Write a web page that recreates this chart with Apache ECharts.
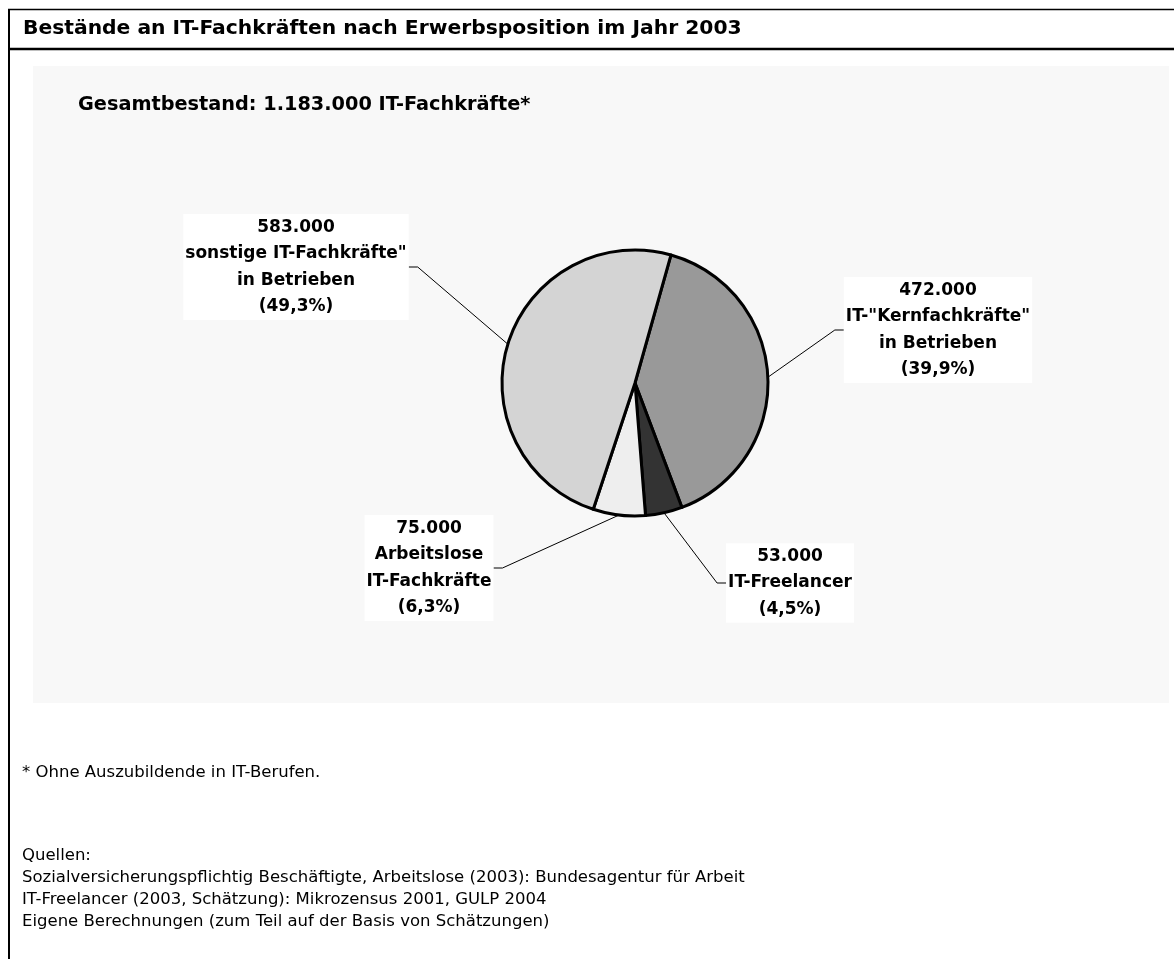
<!DOCTYPE html>
<html>
<head>
<meta charset="utf-8">
<title>Bestände an IT-Fachkräften</title>
<script src="https://cdn.jsdelivr.net/npm/echarts@6/dist/echarts.min.js"></script>
<style>
  html, body { margin: 0; padding: 0; background: #fff; }
  #chart { width: 1174px; height: 959px; }
</style>
</head>
<body>
<div id="chart"></div>
<script>
// Daten
const categories = ['IT-"Kernfachkräfte"\nin Betrieben', 'IT-Freelancer', 'Arbeitslose\nIT-Fachkräfte', 'sonstige IT-Fachkräfte"\nin Betrieben'];
const values = [472000, 53000, 75000, 583000];
const sliceColors = ['#999999', '#333333', '#eeeeee', '#d4d4d4'];

// Texte
const titleText = 'Bestände an IT-Fachkräften nach Erwerbsposition im Jahr 2003';
const subtitleText = 'Gesamtbestand: 1.183.000 IT-Fachkräfte*';
const footnoteLines = ['* Ohne Auszubildende in IT-Berufen.'];
const sourceLines = [
  'Quellen:',
  'Sozialversicherungspflichtig Beschäftigte, Arbeitslose (2003): Bundesagentur für Arbeit',
  'IT-Freelancer (2003, Schätzung): Mikrozensus 2001, GULP 2004',
  'Eigene Berechnungen (zum Teil auf der Basis von Schätzungen)'
];

// Lage der Beschriftungen (Mittelpunkt) und Seite der Führungslinie
const labelCenters = [[938, 330], [790, 583], [429, 568], [296, 267]];
const labelSides = ['left', 'left', 'right', 'right'];

const FONT = '"DejaVu Sans", "Liberation Sans", Arial, sans-serif';

function formatNumber(v) {
  return String(v).replace(/\B(?=(\d{3})+(?!\d))/g, '.');
}

const chart = echarts.init(document.getElementById('chart'), null, { renderer: 'canvas' });

function textEl(text, x, y, size, bold) {
  return {
    type: 'text',
    z: 10,
    style: {
      text: text,
      x: x,
      y: y,
      fill: '#000',
      font: (bold ? 'bold ' : '') + size + 'px ' + FONT,
      textAlign: 'left',
      textVerticalAlign: 'middle',
      align: 'left',
      verticalAlign: 'middle'
    }
  };
}

const graphics = [
  // grauer Hintergrund
  { type: 'rect', z: -10, shape: { x: 33, y: 66, width: 1136, height: 637 }, style: { fill: '#f8f8f8' } },
  // Rahmen
  { type: 'line', z: 5, shape: { x1: 8, y1: 9.5, x2: 1174, y2: 9.5 }, style: { stroke: '#000', lineWidth: 1.5 } },
  { type: 'line', z: 5, shape: { x1: 8, y1: 49, x2: 1174, y2: 49 }, style: { stroke: '#000', lineWidth: 2.5 } },
  { type: 'line', z: 5, shape: { x1: 9, y1: 9, x2: 9, y2: 959 }, style: { stroke: '#000', lineWidth: 2 } },
  textEl(titleText, 23, 29, 20.3, true),
  textEl(subtitleText, 78, 105, 19.3, true)
];
footnoteLines.forEach((t, i) => graphics.push(textEl(t, 22, 773 + i * 22, 16.5, false)));
sourceLines.forEach((t, i) => graphics.push(textEl(t, 22, 856 + i * 22, 16.5, false)));

const option = {
  animation: false,
  backgroundColor: '#fff',
  graphic: graphics,
  series: [
    {
      type: 'pie',
      center: [635, 383],
      radius: 133,
      startAngle: 74.3,
      clockwise: true,
      avoidLabelOverlap: false,
      percentPrecision: 1,
      itemStyle: { borderColor: '#000', borderWidth: 3 },
      label: {
        show: true,
        position: 'outside',
        color: '#000',
        fontFamily: FONT,
        fontWeight: 'bold',
        fontSize: 17,
        lineHeight: 26.5,
        backgroundColor: '#fff',
        padding: [0, 2],
        formatter: p => formatNumber(p.value) + '\n' + p.name + '\n(' + p.percent.toFixed(1).replace('.', ',') + '%)'
      },
      labelLine: {
        show: true,
        length: 20,
        length2: 10,
        smooth: false,
        lineStyle: { color: '#000', width: 1 }
      },
      labelLayout: function (params) {
        const i = params.dataIndex;
        const c = labelCenters[i];
        const w = params.labelRect.width;
        const edgeX = labelSides[i] === 'left' ? c[0] - w / 2 : c[0] + w / 2;
        const bendX = labelSides[i] === 'left' ? edgeX - 9 : edgeX + 9;
        const p0 = params.labelLinePoints ? params.labelLinePoints[0] : [bendX, c[1]];
        return {
          x: c[0],
          y: c[1],
          align: 'center',
          verticalAlign: 'middle',
          labelLinePoints: [p0, [bendX, c[1]], [edgeX, c[1]]]
        };
      },
      emphasis: { disabled: true },
      data: categories.map((name, i) => ({
        name: name,
        value: values[i],
        itemStyle: { color: sliceColors[i] }
      }))
    }
  ]
};

chart.setOption(option);
</script>
</body>
</html>
